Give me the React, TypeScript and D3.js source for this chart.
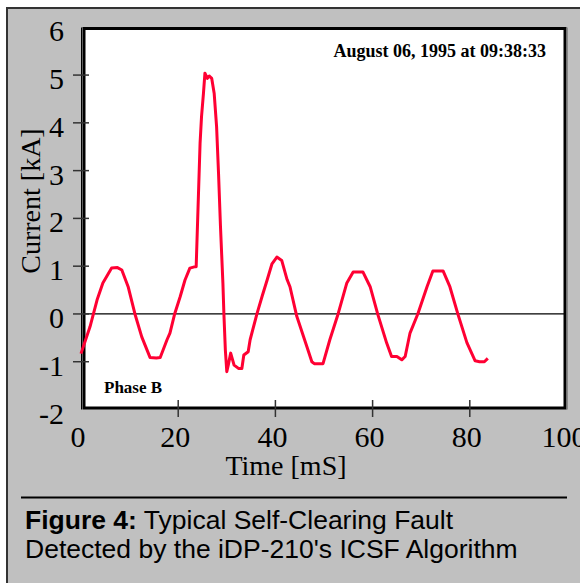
import React from "react";
import * as d3 from "d3";

// ---- data ----
const timeMs = [
  0, 1.85, 3.3, 4.5, 6.3, 7.5, 8.4, 9.7, 11.1, 12.5, 14.2, 15.5, 16.3, 17.7,
  18.3, 19.3, 20.4, 21.4, 22.4, 23.5, 23.7, 24.5, 24.8, 25.2, 25.5, 26.0, 26.4,
  26.9, 27.4, 27.9, 28.3, 28.7, 29.2, 29.4, 29.7, 30.0, 30.3, 30.8, 31.5, 32.4,
  33.1, 33.5, 34.4, 34.8, 36.2, 37.3, 38.3, 39.3, 40.3, 41.3, 42.4, 43.0, 44.4,
  46.5, 47.5, 48.0, 49.8, 51.2, 52.9, 54.7, 56.0, 58.0, 59.5, 61.1, 62.9, 63.9,
  65.0, 66.0, 66.7, 67.7, 69.3, 71.2, 72.4, 74.5, 75.9, 77.6, 79.4, 81.1, 82.0,
  83.0, 83.7,
];
const currentKA = [
  -0.83, -0.27, 0.29, 0.65, 0.96, 0.97, 0.92, 0.57, 0.0, -0.48, -0.91, -0.92,
  -0.91, -0.54, -0.4, 0.01, 0.36, 0.71, 0.96, 0.99, 0.99, 3.57, 4.13, 4.62, 5.04,
  4.93, 4.98, 4.93, 4.62, 3.92, 2.94, 1.83, 0.64, 0.01, -0.75, -1.21, -1.07,
  -0.82, -1.07, -1.14, -1.14, -0.86, -0.79, -0.54, 0.0, 0.38, 0.71, 1.05, 1.19,
  1.12, 0.72, 0.57, -0.05, -0.69, -1.0, -1.04, -1.04, -0.54, 0.0, 0.65, 0.88,
  0.88, 0.57, -0.02, -0.61, -0.89, -0.89, -0.96, -0.89, -0.4, 0.0, 0.57, 0.9,
  0.9, 0.57, -0.02, -0.6, -0.98, -1.0, -1.0, -0.93,
];
const yTicks = [-2, -1, 0, 1, 2, 3, 4, 5, 6];
const xTicks = [0, 20, 40, 60, 80, 100];
const yTitle = "Current [kA]";
const xTitle = "Time [mS]";
const stampText = "August 06, 1995 at 09:38:33";
const phaseText = "Phase B";
const captionBold = "Figure 4:";
const captionLine1 = " Typical Self-Clearing Fault";
const captionLine2 = "Detected by the iDP-210's ICSF Algorithm";

export default function App() {
  const W = 580;
  const H = 583;
  const x = d3.scaleLinear().domain([0, 100]).range([81, 567]);
  const y = d3.scaleLinear().domain([-2, 6]).range([409.5, 27.3]);
  const pts = timeMs.map((t, i) => [t, currentKA[i]] as [number, number]);
  const line = d3
    .line<[number, number]>()
    .x((d) => x(d[0]))
    .y((d) => y(d[1]));

  const serif = "'Liberation Serif', 'Times New Roman', serif";
  const sans = "'Liberation Sans', Arial, sans-serif";
  const px0 = 84;
  const px1 = 565;
  const py0 = 28.5;
  const py1 = 408;

  return (
    <svg
      width={W}
      height={H}
      style={{ position: "absolute", left: 0, top: 0, background: "#fff" }}
    >
      {/* outer gray panel */}
      <rect x={7} y={8} width={640} height={640} fill="#c0c0c0" stroke="#333" strokeWidth={2} />

      {/* plot area */}
      <rect x={px0} y={py0} width={px1 - px0} height={py1 - py0} fill="#fff" stroke="#000" strokeWidth={3} />
      <line x1={81.5} x2={81.5} y1={py0 - 1} y2={py1 + 1.5} stroke="#000" strokeWidth={1} />
      <line x1={567} x2={567} y1={py0 - 1} y2={py1 + 1.5} stroke="#777" strokeWidth={1.5} />

      {/* zero line */}
      <line x1={px0} x2={px1} y1={y(0)} y2={y(0)} stroke="#000" strokeWidth={1.2} />

      {/* y ticks */}
      {yTicks.filter((v) => v > -2 && v < 6).map((v) => (
        <line key={"yt" + v} x1={73} x2={89} y1={y(v)} y2={y(v)} stroke="#333" strokeWidth={1.5} />
      ))}
      {yTicks.map((v) => (
        <text
          key={"yl" + v}
          x={64}
          y={y(v) + 14}
          textAnchor="end"
          fontFamily={serif}
          fontSize={30}
          fill="#000"
        >
          {v}
        </text>
      ))}

      {/* x ticks */}
      {xTicks.filter((v) => v > 0 && v < 100).map((v) => (
        <line key={"xt" + v} x1={x(v)} x2={x(v)} y1={400} y2={417} stroke="#333" strokeWidth={1.5} />
      ))}
      {xTicks.map((v) => (
        <text
          key={"xl" + v}
          x={x(v) - 3}
          y={447}
          textAnchor="middle"
          fontFamily={serif}
          fontSize={30}
          fill="#000"
        >
          {v}
        </text>
      ))}

      {/* axis titles */}
      <text
        transform={`translate(40,201) rotate(-90)`}
        textAnchor="middle"
        fontFamily={serif}
        fontSize={28}
        fill="#000"
      >
        {yTitle}
      </text>
      <text x={286} y={475} textAnchor="middle" fontFamily={serif} fontSize={28} fill="#000">
        {xTitle}
      </text>

      {/* annotations */}
      <text x={546} y={57} textAnchor="end" fontFamily={serif} fontWeight="bold" fontSize={18} fill="#000">
        {stampText}
      </text>
      <text x={104} y={393} fontFamily={serif} fontWeight="bold" fontSize={17} fill="#000">
        {phaseText}
      </text>

      {/* signal */}
      <path d={line(pts) || ""} fill="none" stroke="#ff0033" strokeWidth={3} strokeLinejoin="round" />

      {/* caption */}
      <line x1={21} x2={567} y1={497.5} y2={497.5} stroke="#000" strokeWidth={2} />
      <text x={25} y={529} fontFamily={sans} fontSize={26.5} fill="#000">
        <tspan fontWeight="bold">{captionBold}</tspan>
        <tspan>{captionLine1}</tspan>
      </text>
      <text x={25} y={558} fontFamily={sans} fontSize={26.5} fill="#000">
        {captionLine2}
      </text>
    </svg>
  );
}
